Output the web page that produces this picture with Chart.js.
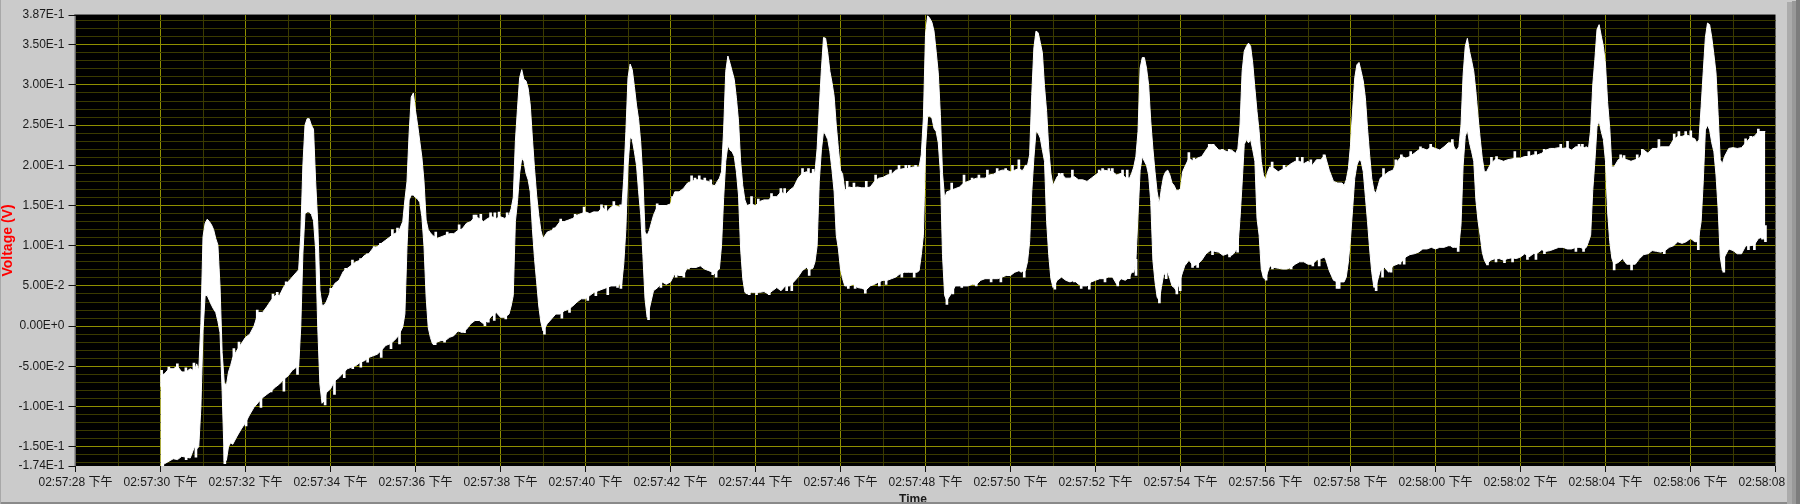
<!DOCTYPE html>
<html>
<head>
<meta charset="utf-8">
<style>
html,body{margin:0;padding:0;background:#cbcbcb;overflow:hidden}
#wrap{position:relative;width:1800px;height:504px;overflow:hidden}
canvas{display:block}
.band{position:absolute}
</style>
<script src="https://cdn.jsdelivr.net/npm/chart.js@4"></script>
</head>
<body>
<div id="wrap">
<canvas id="c" width="1800" height="504"></canvas>
<div class="band" style="left:1787px;top:2px;width:5px;height:502px;background:#ababab"></div>
<div class="band" style="left:1792px;top:1px;width:4px;height:503px;background:#999999"></div>
<div class="band" style="left:1796px;top:0;width:4px;height:504px;background:#7d7d7d"></div>
<div class="band" style="left:0;top:502px;width:1787px;height:2px;background:#8a8a8a"></div>
<div class="band" style="left:0;top:0;width:1px;height:504px;background:#a8a8a8"></div>
</div>
<script>
// Seconds after 02:57:28
const timeSec = [
2.0,2.1,2.2,2.3,2.4,2.5,2.6,2.7,2.8,2.85,
2.9,2.95,3.0,3.05,3.1,3.15,3.2,3.25,3.3,3.35,
3.4,3.45,3.5,3.55,3.6,3.65,3.7,3.8,3.9,4.0,
4.1,4.2,4.3,4.4,4.5,4.6,4.7,4.8,4.9,5.0,
5.1,5.2,5.25,5.3,5.35,5.4,5.45,5.5,5.55,5.6,
5.65,5.7,5.75,5.8,5.85,5.9,6.0,6.1,6.2,6.3,
6.4,6.5,6.6,6.7,6.8,6.9,7.0,7.1,7.2,7.3,
7.4,7.5,7.6,7.7,7.75,7.8,7.85,7.9,7.95,8.0,
8.05,8.1,8.15,8.2,8.25,8.3,8.35,8.4,8.5,8.6,
8.7,8.8,8.9,9.0,9.1,9.2,9.3,9.4,9.5,9.6,
9.7,9.8,9.9,10.0,10.1,10.2,10.25,10.3,10.35,10.4,
10.45,10.5,10.55,10.6,10.65,10.7,10.75,10.8,10.85,10.9,
10.95,11.0,11.1,11.2,11.3,11.4,11.5,11.6,11.7,11.8,
11.9,12.0,12.1,12.2,12.3,12.4,12.5,12.6,12.7,12.8,
12.85,12.9,12.95,13.0,13.05,13.1,13.15,13.2,13.25,13.3,
13.35,13.4,13.45,13.5,13.6,13.7,13.8,13.9,14.0,14.1,
14.2,14.3,14.4,14.5,14.6,14.7,14.8,14.9,15.0,15.05,
15.1,15.15,15.2,15.25,15.3,15.35,15.4,15.45,15.5,15.55,
15.6,15.65,15.7,15.75,15.8,15.9,16.0,16.1,16.2,16.3,
16.4,16.5,16.6,16.7,16.8,16.9,17.0,17.1,17.2,17.25,
17.3,17.35,17.4,17.45,17.5,17.55,17.6,17.65,17.7,17.75,
17.8,17.85,17.9,17.95,18.0,18.05,18.1,18.2,18.3,18.4,
18.5,18.6,18.7,18.8,18.9,19.0,19.1,19.2,19.3,19.4,
19.5,19.6,19.7,19.8,19.85,19.9,19.95,20.0,20.05,20.1,
20.15,20.2,20.25,20.3,20.35,20.4,20.45,20.5,20.6,20.7,
20.8,20.9,21.0,21.1,21.2,21.3,21.4,21.5,21.6,21.7,
21.8,21.9,22.0,22.1,22.2,22.25,22.3,22.35,22.4,22.45,
22.5,22.55,22.6,22.65,22.7,22.75,22.8,22.85,22.9,22.95,
23.0,23.1,23.2,23.3,23.4,23.5,23.6,23.7,23.8,23.9,
24.0,24.1,24.2,24.3,24.4,24.5,24.6,24.7,24.8,24.85,
24.9,24.95,25.0,25.05,25.1,25.15,25.2,25.25,25.3,25.35,
25.4,25.45,25.5,25.55,25.6,25.65,25.7,25.75,25.8,25.85,
25.9,25.95,26.0,26.05,26.1,26.2,26.3,26.4,26.5,26.6,
26.7,26.8,26.9,27.0,27.1,27.2,27.25,27.3,27.35,27.4,
27.45,27.5,27.55,27.6,27.65,27.7,27.75,27.8,27.85,27.9,
27.95,28.0,28.05,28.1,28.2,28.3,28.4,28.5,28.6,28.7,
28.8,28.9,29.0,29.1,29.2,29.3,29.4,29.5,29.6,29.7,
29.8,29.85,29.9,29.95,30.0,30.05,30.1,30.15,30.2,30.25,
30.3,30.35,30.4,30.45,30.5,30.55,30.6,30.65,30.7,30.8,
30.9,31.0,31.1,31.2,31.3,31.4,31.5,31.6,31.7,31.8,
31.9,32.0,32.1,32.2,32.3,32.35,32.4,32.45,32.5,32.55,
32.6,32.65,32.7,32.75,32.8,32.85,32.9,32.95,33.0,33.05,
33.1,33.15,33.2,33.3,33.4,33.5,33.6,33.7,33.8,33.9,
34.0,34.1,34.2,34.3,34.4,34.5,34.6,34.7,34.8,34.9,
35.0,35.1,35.2,35.3,35.4,35.5,35.55,35.6,35.65,35.7,
35.75,35.8,35.85,35.9,35.95,36.0,36.05,36.1,36.15,36.2,
36.3,36.4,36.5,36.6,36.7,36.8,36.9,37.0,37.1,37.2,
37.3,37.4,37.5,37.6,37.7,37.8,37.9,38.0,38.05,38.1,
38.15,38.2,38.25,38.3,38.35,38.4,38.45,38.5,38.55,38.6,
38.65,38.7,38.75,38.8,38.9,39.0,39.1,39.2,39.3,39.4,
39.5,39.6,39.7,39.76
];
const upperVolts = [
-.062,-.059,-.053,-.053,-.05,-.057,-.057,-.053,-.056,-.047,
-.055,.003,.111,.128,.133,.13,.126,.12,.109,.101,
.05,-.033,-.07,-.074,-.057,-.049,-.039,-.03,-.022,-.014,
-.01,0,.017,.017,.024,.032,.038,.038,.049,.055,
.061,.067,.07,.113,.2,.25,.258,.258,.25,.245,
.18,.128,.045,.026,.026,.03,.043,.053,.057,.068,
.072,.076,.08,.082,.088,.09,.097,.099,.103,.107,
.111,.115,.117,.13,.157,.18,.24,.285,.29,.268,
.25,.23,.21,.18,.132,.12,.116,.113,.109,.111,
.113,.115,.115,.119,.121,.128,.13,.136,.134,.13,
.134,.136,.134,.136,.134,.138,.146,.16,.23,.271,
.309,.319,.307,.305,.296,.275,.234,.196,.163,.138,
.119,.109,.117,.119,.123,.13,.13,.132,.134,.138,
.14,.142,.14,.142,.142,.148,.142,.148,.15,.148,
.144,.184,.242,.309,.326,.319,.298,.275,.257,.228,
.184,.117,.113,.119,.138,.15,.15,.15,.152,.167,
.167,.171,.178,.18,.182,.182,.181,.18,.175,.175,
.18,.184,.192,.244,.317,.336,.327,.317,.307,.284,
.255,.205,.175,.157,.15,.152,.15,.155,.157,.157,
.161,.161,.167,.163,.169,.173,.184,.19,.192,.19,
.19,.19,.192,.221,.271,.319,.359,.358,.34,.317,
.303,.286,.25,.221,.194,.189,.169,.173,.172,.173,
.172,.172,.173,.18,.184,.185,.188,.189,.194,.195,
.196,.196,.198,.198,.198,.213,.259,.363,.386,.383,
.378,.367,.342,.315,.263,.19,.159,.167,.169,.171,
.173,.178,.18,.182,.184,.184,.184,.188,.189,.192,
.194,.194,.192,.194,.196,.194,.194,.2,.2,.213,
.288,.346,.367,.365,.353,.34,.298,.267,.221,.19,
.175,.186,.189,.184,.184,.186,.182,.182,.18,.184,
.188,.192,.194,.193,.192,.188,.19,.185,.184,.19,
.198,.211,.242,.321,.334,.334,.321,.3,.255,.221,
.192,.167,.152,.171,.186,.192,.194,.188,.178,.175,
.169,.169,.171,.192,.198,.209,.205,.209,.211,.219,
.226,.225,.219,.219,.217,.219,.217,.215,.221,.25,
.317,.342,.348,.352,.348,.327,.296,.267,.242,.205,
.188,.182,.192,.198,.196,.192,.195,.198,.202,.205,
.205,.202,.205,.2,.207,.207,.213,.194,.18,.178,
.178,.175,.182,.196,.225,.269,.309,.325,.328,.317,
.305,.284,.246,.213,.184,.169,.165,.175,.184,.188,
.192,.194,.205,.211,.209,.211,.215,.219,.221,.219,
.223,.221,.219,.223,.228,.228,.228,.221,.219,.223,
.25,.313,.348,.358,.342,.33,.317,.292,.261,.234,
.209,.192,.192,.202,.207,.207,.205,.207,.208,.209,
.209,.211,.211,.213,.213,.215,.219,.221,.221,.222,
.221,.222,.219,.223,.223,.222,.223,.221,.244,.3,
.332,.369,.375,.361,.348,.325,.278,.246,.198,.198,
.207,.209,.207,.205,.207,.209,.219,.215,.221,.221,
.223,.223,.223,.232,.236,.236,.238,.236,.234,.233,
.228,.232,.273,.317,.359,.377,.375,.359,.338,.315,
.263,.207,.202,.211,.221,.222,.221,.222,.228,.234,
.236,.242,.242,.242
];
const lowerVolts = [
-.174,-.171,-.168,-.165,-.166,-.162,-.163,-.164,-.15,-.153,
-.15,-.101,-.006,.038,.038,.032,.026,.021,.017,.006,
-.008,-.081,-.168,-.167,-.15,-.145,-.147,-.137,-.128,-.12,
-.11,-.101,-.095,-.089,-.085,-.081,-.076,-.072,-.066,-.062,
-.055,-.051,-.051,-.001,.09,.14,.142,.142,.139,.131,
.095,-.002,-.072,-.096,-.093,-.083,-.078,-.068,-.064,-.058,
-.053,-.051,-.049,-.045,-.043,-.039,-.037,-.035,-.03,-.024,
-.022,-.018,-.012,-.001,.015,.099,.157,.163,.163,.16,
.158,.154,.136,.099,.036,-.002,-.014,-.022,-.02,-.018,
-.018,-.014,-.012,-.006,-.008,-.004,.003,.007,.007,.003,
.007,.013,.017,.011,.011,.015,.025,.038,.13,.155,
.19,.209,.205,.19,.182,.167,.121,.084,.055,.025,
.005,-.006,.003,.009,.015,.015,.019,.021,.025,.03,
.034,.034,.038,.042,.044,.046,.048,.05,.05,.052,
.052,.077,.121,.2,.235,.232,.217,.2,.167,.138,
.088,.034,.011,.021,.044,.048,.055,.052,.055,.065,
.063,.063,.073,.073,.073,.075,.071,.069,.067,.065,
.069,.071,.1,.159,.205,.225,.219,.217,.211,.192,
.163,.096,.059,.042,.04,.042,.042,.042,.043,.04,
.044,.048,.044,.05,.05,.055,.061,.069,.073,.07,
.071,.072,.08,.1,.18,.219,.242,.238,.232,.217,
.194,.167,.113,.096,.071,.059,.05,.05,.052,.048,
.047,.045,.05,.052,.055,.057,.057,.059,.061,.065,
.067,.067,.067,.067,.069,.088,.113,.221,.261,.261,
.259,.246,.242,.228,.192,.088,.038,.032,.04,.05,
.05,.05,.05,.052,.052,.057,.059,.059,.059,.059,
.061,.063,.063,.067,.069,.067,.069,.069,.08,.105,
.167,.209,.242,.24,.234,.219,.205,.13,.088,.059,
.048,.057,.061,.057,.055,.057,.052,.05,.05,.055,
.057,.059,.059,.061,.061,.052,.059,.057,.061,.067,
.067,.08,.138,.194,.211,.205,.2,.188,.155,.082,
.055,.036,.032,.048,.063,.067,.067,.059,.05,.048,
.044,.05,.059,.067,.075,.082,.075,.077,.082,.09,
.094,.093,.092,.088,.09,.088,.09,.094,.098,.134,
.178,.226,.232,.228,.232,.219,.205,.134,.113,.071,
.06,.059,.067,.075,.073,.072,.071,.071,.073,.077,
.08,.08,.077,.077,.082,.084,.086,.069,.057,.055,
.055,.055,.061,.08,.109,.146,.184,.2,.207,.205,
.192,.161,.13,.096,.067,.048,.05,.059,.069,.073,
.067,.075,.077,.08,.086,.089,.09,.092,.096,.096,
.098,.096,.098,.098,.1,.1,.098,.098,.098,.1,
.126,.2,.236,.244,.228,.217,.205,.157,.131,.113,
.092,.082,.077,.082,.084,.084,.082,.084,.085,.084,
.086,.09,.086,.09,.091,.095,.093,.094,.096,.098,
.098,.096,.096,.098,.098,.096,.098,.105,.113,.169,
.205,.248,.255,.242,.232,.205,.142,.105,.084,.077,
.079,.084,.077,.077,.077,.084,.089,.09,.094,.093,
.092,.094,.098,.1,.105,.103,.105,.109,.107,.105,
.105,.113,.13,.18,.244,.25,.244,.228,.217,.188,
.146,.086,.069,.086,.096,.094,.09,.09,.1,.1,
.101,.109,.111,.107
];
// Single-sample excursions that stick out above the band: time, peak voltage
const topSpikeTimes = [
2.05,2.22,2.42,2.62,2.81,3.75,3.87,4.3,4.67,4.77,4.98,6.03,6.18,6.38,6.54,6.73,6.89,7.05,7.2,7.48,7.6,
8.5,8.77,9.05,9.4,9.45,9.56,9.79,9.89,9.99,10.18,11.28,11.44,11.78,11.99,12.22,12.4,12.5,12.69,12.85,
13.71,14.07,14.52,14.6,14.7,14.83,14.97,15.93,16.09,16.4,16.62,16.71,17.13,17.27,17.38,
18.18,18.34,18.63,18.85,19.2,19.4,19.56,19.64,19.79,20.46,20.64,20.93,21.12,21.28,21.48,21.71,21.91,
22.07,22.22,23.17,23.24,23.48,24.11,24.19,24.34,24.42,24.66,24.77,26.22,26.34,26.7,26.79,27.01,27.17,
28.18,28.46,28.77,28.89,29.09,29.4,30.8,31.09,31.22,31.44,31.67,31.91,32.42,
33.34,33.46,33.89,34.22,34.38,34.58,34.97,35.13,35.4,35.48,36.38,36.46,36.77,36.89,37.28,37.64,37.75,37.91,38.03,
39.32,39.44,39.62,39.74
];
const topSpikeVolts = [
-.055,-.051,-.047,-.052,-.046,-.028,-.02,.02,.04,.042,.055,.047,.051,.072,.082,.084,.09,.099,.103,.12,.122,
.117,.117,.126,.138,.138,.139,.141,.141,.142,.141,.122,.133,.139,.148,.142,.151,.15,.155,.151,
.152,.161,.187,.184,.187,.184,.182,.161,.158,.165,.171,.171,.196,.196,.195,
.18,.178,.18,.188,.194,.2,.2,.2,.2,.161,.178,.188,.184,.188,.194,.196,.196,
.2,.207,.19,.19,.194,.194,.196,.196,.196,.194,.194,.216,.209,.226,.226,.22,.22,
.204,.2,.21,.21,.207,.213,.196,.207,.213,.217,.223,.226,.232,
.21,.211,.217,.217,.217,.22,.226,.23,.226,.226,.213,.212,.213,.22,.232,.239,.242,.242,.243,
.233,.236,.245,.242
];
// Single-sample excursions that stick out below the band: time, lowest voltage
const bottomSpikeTimes = [
2.03,2.34,2.54,2.58,2.81,3.49,3.75,3.99,4.34,4.58,4.88,5.2,5.85,6.07,6.3,6.5,6.69,6.85,7.17,7.4,7.6,
8.42,8.66,8.44,8.81,8.89,9.13,9.61,9.69,9.83,9.95,10.1,11.01,11.42,11.6,12.03,12.22,12.5,12.73,12.81,
13.46,13.75,14.11,14.29,14.4,14.97,15.05,15.83,16.0,16.3,16.71,16.83,17.24,
18.16,18.32,18.56,18.89,19.05,19.42,19.71,20.48,20.62,20.83,21.17,21.52,21.75,
22.3,23.02,23.48,23.64,23.83,24.2,24.5,24.77,24.93,25.48,25.64,25.89,25.97,
26.26,26.38,26.73,27.13,27.32,27.99,28.14,28.58,28.85,29.09,29.24,29.4,29.66,29.71,30.58,
30.73,30.93,31.14,31.24,32.51,33.2,33.4,33.6,33.79,34.14,34.34,34.54,
35.28,35.46,36.18,36.59,37.36,38.16,38.76,39.34,39.48,39.67,39.74
];
const bottomSpikeVolts = [
-.174,-.165,-.16,-.166,-.163,-.171,-.137,-.124,-.101,-.082,-.081,-.06,-.098,-.085,-.064,-.053,-.051,-.045,-.039,-.028,-.022,
-.023,-.02,-.023,-.009,-.009,-.008,0,.005,.007,.021,.009,-.01,.01,.017,.032,.038,.039,.048,.047,
.008,.048,.061,.061,.071,.064,.061,.039,.039,.039,.044,.044,.063,
.047,.047,.041,.05,.052,.061,.061,.027,.04,.048,.05,.055,.055,
.061,.046,.055,.047,.046,.055,.05,.059,.063,.029,.059,.04,.044,
.073,.073,.089,.086,.092,.057,.071,.071,.085,.075,.075,.084,.047,.047,.044,
.061,.067,.077,.077,.093,.076,.08,.079,.08,.083,.083,.09,
.093,.093,.07,.07,.09,.095,.067,.095,.095,.108,.105
];
const yMajorTicks = [0.387,0.35,0.3,0.25,0.2,0.15,0.1,0.05,0,-0.05,-0.1,-0.15,-0.174];
const yMajorLabels = ["3.87E-1","3.50E-1","3.00E-1","2.50E-1","2.00E-1","1.50E-1","1.00E-1","5.00E-2","0.00E+0","-5.00E-2","-1.00E-1","-1.50E-1","-1.74E-1"];
const yMinorTicks = [0.38,0.37,0.36,0.34,0.33,0.32,0.31,0.29,0.28,0.27,0.26,0.24,0.23,0.22,0.21,0.19,0.18,0.17,0.16,0.14,0.13,0.12,0.11,0.09,0.08,0.07,0.06,0.04,0.03,0.02,0.01,-0.01,-0.02,-0.03,-0.04,-0.06,-0.07,-0.08,-0.09,-0.11,-0.12,-0.13,-0.14,-0.16,-0.17];
const xTickLabels = ["02:57:28 下午","02:57:30 下午","02:57:32 下午","02:57:34 下午","02:57:36 下午","02:57:38 下午","02:57:40 下午","02:57:42 下午","02:57:44 下午","02:57:46 下午","02:57:48 下午","02:57:50 下午","02:57:52 下午","02:57:54 下午","02:57:56 下午","02:57:58 下午","02:58:00 下午","02:58:02 下午","02:58:04 下午","02:58:06 下午","02:58:08 下午"];
const xAxisTitle = "Time";
const yAxisTitle = "Voltage (V)";

const panel = '#cbcbcb', gridMajor = '#8f8f00', gridMinor = '#3a3a00', textCol = '#1a1a1a';
const fontFam = '"Liberation Sans","Noto Sans CJK SC",sans-serif';
const near = (a,b)=>Math.abs(a-b)<1e-6;
const isMajorY = v => yMajorTicks.some(m=>near(m,v));
const spikeRoot = 0.02;

const frame = {
  id:'frame',
  beforeDraw(c){
    const {ctx,chartArea:a}=c;
    ctx.save();
    ctx.fillStyle=panel; ctx.fillRect(0,0,c.width,c.height);
    ctx.fillStyle='#000'; ctx.fillRect(a.left,a.top,a.right-a.left,a.bottom-a.top);
    ctx.fillStyle='#6e6e6e'; ctx.fillRect(a.left-1,a.top-1,a.right-a.left+1,1); ctx.fillRect(a.left-1,a.top-1,1,a.bottom-a.top+1);
    ctx.restore();
  },
  afterDraw(c){
    const {ctx}=c;
    ctx.save();
    ctx.font='bold 12px '+fontFam; ctx.fillStyle='#1a1a1a'; ctx.textAlign='center'; ctx.textBaseline='middle';
    ctx.fillText(xAxisTitle,913,500);
    ctx.restore();
  }
};

new Chart(document.getElementById('c'),{
  type:'line',
  plugins:[frame],
  data:{datasets:[
    {label:'Upper envelope',data:timeSec.map((t,i)=>({x:t,y:upperVolts[i]})),borderColor:'#fff',borderWidth:1,backgroundColor:'#fff',pointRadius:0,fill:'+1',tension:0},
    {label:'Lower envelope',data:timeSec.map((t,i)=>({x:t,y:lowerVolts[i]})),borderColor:'#fff',borderWidth:1,backgroundColor:'#fff',pointRadius:0,fill:false,tension:0},
    {type:'bar',label:'Upper spikes',data:topSpikeTimes.map((t,i)=>({x:t,y:[topSpikeVolts[i]-spikeRoot,topSpikeVolts[i]]})),backgroundColor:'#fff',barThickness:2,borderWidth:0},
    {type:'bar',label:'Lower spikes',data:bottomSpikeTimes.map((t,i)=>({x:t,y:[bottomSpikeVolts[i],bottomSpikeVolts[i]+spikeRoot]})),backgroundColor:'#fff',barThickness:2,borderWidth:0}
  ]},
  options:{
    responsive:false,animation:false,devicePixelRatio:1,
    layout:{padding:{left:0,top:15,right:24.5,bottom:0}},
    plugins:{legend:{display:false},tooltip:{enabled:false},title:{display:false}},
    scales:{
      x:{type:'linear',min:0,max:40,offset:false,
        grid:{offset:false,color:c=>{const v=c.tick.value; if(v===0||v===40)return 'rgba(0,0,0,0)'; return v%2===0?gridMajor:gridMinor;},lineWidth:1,tickLength:6,tickColor:c=>c.tick.value%2===0?'#111':'rgba(0,0,0,0)',drawOnChartArea:true},
        border:{display:false},
        ticks:{stepSize:1,autoSkip:false,maxRotation:0,minRotation:0,padding:3,color:textCol,font:{family:fontFam,size:12},callback:v=>v%2===0?xTickLabels[v/2]:''},
        afterFit(s){s.height=38;s.paddingLeft=0;s.paddingRight=0;}
      },
      y:{type:'linear',min:-0.174,max:0.387,
        afterBuildTicks(s){s.ticks=yMajorTicks.concat(yMinorTicks).map(v=>({value:v}));},
        grid:{color:c=>{const v=c.tick.value; if(near(v,0.387)||near(v,-0.174))return 'rgba(0,0,0,0)'; return isMajorY(v)?gridMajor:gridMinor;},lineWidth:1,tickLength:7,tickColor:c=>isMajorY(c.tick.value)?'#111':'rgba(0,0,0,0)'},
        border:{display:false},
        ticks:{autoSkip:false,padding:4,color:textCol,font:{family:fontFam,size:12},callback:v=>{const i=yMajorTicks.findIndex(m=>near(m,v));return i>=0?yMajorLabels[i]:'';}},
        title:{display:true,text:yAxisTitle,color:'#ff0000',font:{family:fontFam,size:14,weight:'bold'},padding:{top:0,bottom:0}},
        afterFit(s){s.width=75.5;s.paddingTop=0;s.paddingBottom=0;}
      }
    }
  }
});
</script>
</body>
</html>
